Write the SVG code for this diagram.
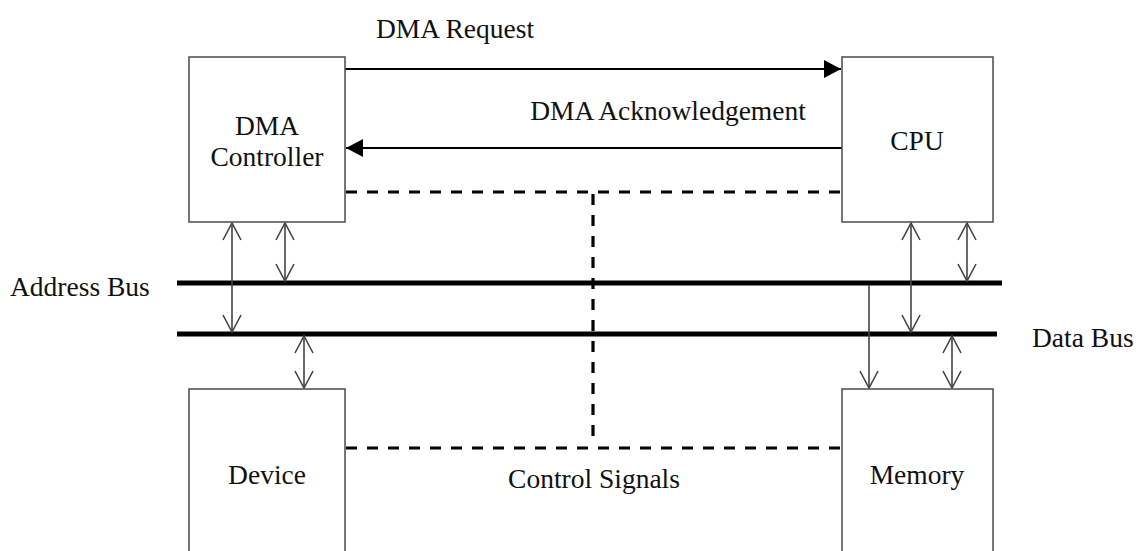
<svg xmlns="http://www.w3.org/2000/svg" width="1140" height="551" viewBox="0 0 1140 551">
<defs>
<style>
.box{fill:#fff;stroke:#555;stroke-width:1.6}
.t{font-family:"Liberation Serif","Times New Roman",serif;font-size:27.5px;fill:#111}
.m{text-anchor:middle}
.sig{stroke:#000;stroke-width:2;fill:none}
.bus{stroke:#000;stroke-width:5;fill:none}
.dash{stroke:#000;stroke-width:3.2;fill:none;stroke-dasharray:11 10}
.bi{stroke:#444;stroke-width:1.6;fill:none}
</style>
<marker id="fa" viewBox="0 0 17 18" refX="17" refY="9" markerWidth="17" markerHeight="18" markerUnits="userSpaceOnUse" orient="auto">
<path d="M0,0 L17,9 L0,18 Z" fill="#000"/>
</marker>
<marker id="oa" viewBox="0 0 20 20" refX="18" refY="10" markerWidth="20" markerHeight="20" markerUnits="userSpaceOnUse" orient="auto-start-reverse">
<path d="M1,1 L18,10 L1,19" fill="none" stroke="#444" stroke-width="1.6"/>
</marker>
</defs>
<rect width="1140" height="551" fill="#fff"/>
<g id="connectors">
<line class="sig" x1="345" y1="69" x2="841" y2="69" marker-end="url(#fa)"/>
<line class="sig" x1="842" y1="148" x2="346" y2="148" marker-end="url(#fa)"/>
<line class="bus" x1="177" y1="283" x2="1002" y2="283"/>
<line class="bus" x1="177" y1="334" x2="997" y2="334"/>
<line class="dash" x1="346" y1="192" x2="842" y2="192"/>
<line class="dash" x1="593" y1="194" x2="593" y2="446"/>
<line class="dash" x1="346" y1="448" x2="842" y2="448"/>
<line class="bi" x1="232" y1="223" x2="232" y2="332" marker-start="url(#oa)" marker-end="url(#oa)"/>
<line class="bi" x1="285" y1="223" x2="285" y2="281" marker-start="url(#oa)" marker-end="url(#oa)"/>
<line class="bi" x1="304" y1="336" x2="304" y2="388" marker-start="url(#oa)" marker-end="url(#oa)"/>
<line class="bi" x1="911" y1="223" x2="911" y2="332" marker-start="url(#oa)" marker-end="url(#oa)"/>
<line class="bi" x1="967" y1="223" x2="967" y2="281" marker-start="url(#oa)" marker-end="url(#oa)"/>
<line class="bi" x1="869" y1="285" x2="869" y2="388" marker-end="url(#oa)"/>
<line class="bi" x1="952" y1="336" x2="952" y2="388" marker-start="url(#oa)" marker-end="url(#oa)"/>
</g>
<g id="dma-controller">
<rect class="box" x="189" y="57" width="156" height="165"/>
<text class="t m" x="267" y="135">DMA</text>
<text class="t m" x="267" y="166">Controller</text>
</g>
<g id="cpu">
<rect class="box" x="842" y="57" width="151" height="165"/>
<text class="t m" x="917" y="150">CPU</text>
</g>
<g id="device">
<rect class="box" x="189" y="389" width="156" height="170"/>
<text class="t m" x="267" y="484">Device</text>
</g>
<g id="memory">
<rect class="box" x="842" y="389" width="151" height="170"/>
<text class="t m" x="917" y="484">Memory</text>
</g>
<g id="labels">
<text class="t m" x="455" y="38">DMA Request</text>
<text class="t m" x="668" y="120">DMA Acknowledgement</text>
<text class="t" x="10" y="296">Address Bus</text>
<text class="t" x="1032" y="347">Data Bus</text>
<text class="t m" x="594" y="488">Control Signals</text>
</g>
</svg>
